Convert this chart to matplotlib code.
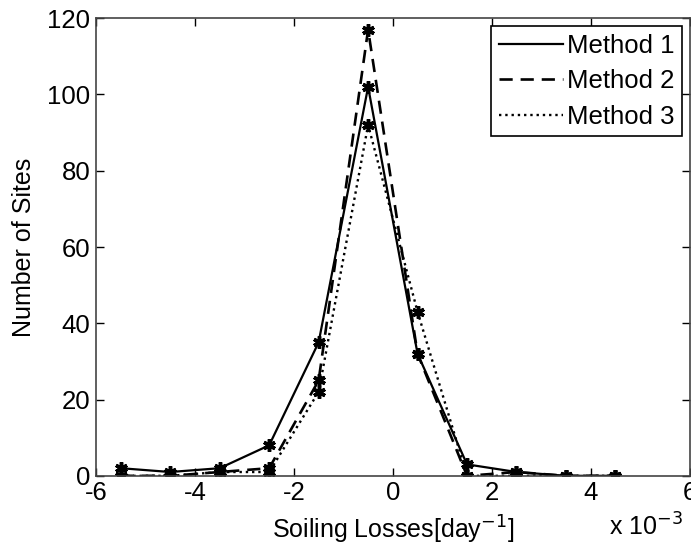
import matplotlib.pyplot as plt
from matplotlib.ticker import FuncFormatter

plt.rcParams['font.family'] = ['Liberation Sans', 'DejaVu Sans']

# bin centres (day^-1) and site counts per method
bins = [-5.5e-3, -4.5e-3, -3.5e-3, -2.5e-3, -1.5e-3, -0.5e-3,
        0.5e-3, 1.5e-3, 2.5e-3, 3.5e-3, 4.5e-3]
method1 = [2, 1, 2, 8, 35, 102, 32, 3, 1, 0, 0]
method2 = [0, 0, 1, 2, 25, 117, 32, 0, 1, 0, 0]
method3 = [0, 0, 1, 1, 22, 92, 43, 0, 0, 0, 0]

fig = plt.figure(figsize=(6.91, 5.52), dpi=100)
ax = fig.add_axes([0.139, 0.138, 0.859, 0.829])

star = (6, 2, 0)
ax.plot(bins, method1, color='black', linestyle='-', linewidth=1.6, label='Method 1')
ax.plot(bins, method2, color='black', linestyle=(0, (5, 3)), linewidth=1.9, label='Method 2')
ax.plot(bins, method3, color='black', linestyle=':', linewidth=1.7, label='Method 3')

# markers drawn separately so the legend shows only the line styles
for vals in (method1, method2, method3):
    ax.plot(bins, vals, linestyle='none', marker=star, markersize=9,
            markeredgewidth=2.5, color='black')

ax.set_xlim(-6e-3, 6e-3)
ax.set_ylim(0, 120)
ax.set_xticks([-6e-3, -4e-3, -2e-3, 0, 2e-3, 4e-3, 6e-3])
ax.set_yticks([0, 20, 40, 60, 80, 100, 120])
ax.xaxis.set_major_formatter(FuncFormatter(lambda v, p: f'{v * 1e3:g}'))

ax.tick_params(direction='in', length=6, width=1, labelsize=18.5,
               top=True, right=True, pad=4)
for s in ax.spines.values():
    s.set_linewidth(1.2)
    s.set_color('#444444')

ax.set_ylabel('Number of Sites', fontsize=18, labelpad=8)
ax.set_xlabel('Soiling Losses[day$^{-1}$]', fontsize=18, labelpad=6)
fig.text(0.882, 0.02, 'x 10$^{-3}$', fontsize=18, ha='left', va='bottom')

leg = ax.legend(loc='upper right', fontsize=18.5, frameon=True, fancybox=False,
                edgecolor='black', framealpha=1, handlelength=2.5,
                handletextpad=0.15, borderaxespad=0.3, labelspacing=0.45,
                borderpad=0.3)
leg.get_frame().set_linewidth(1.2)

fig.savefig('out.png', dpi=100)
